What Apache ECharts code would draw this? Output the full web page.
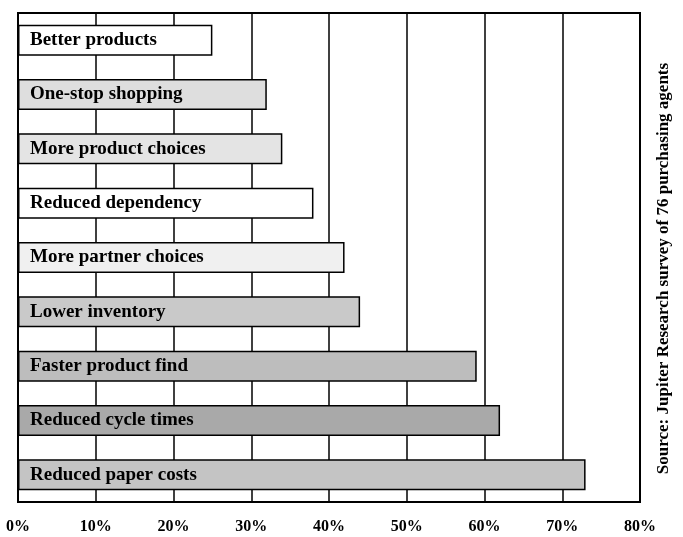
<!DOCTYPE html>
<html>
<head>
<meta charset="utf-8">
<script src="https://cdn.jsdelivr.net/npm/echarts@6/dist/echarts.min.js"></script>
<style>
html, body { margin: 0; padding: 0; background: #fff; }
#main { width: 683px; height: 537px; }
</style>
</head>
<body>
<div id="main"></div>
<script>
// 数据：从上到下的类别、百分比和灰度
var categories = ['Better products', 'One-stop shopping', 'More product choices', 'Reduced dependency',
	'More partner choices', 'Lower inventory', 'Faster product find', 'Reduced cycle times', 'Reduced paper costs'];
var values = [25, 32, 34, 38, 42, 44, 59, 62, 73];
var shades = ['#ffffff', '#dedede', '#e4e4e4', '#ffffff', '#f0f0f0', '#c9c9c9', '#bdbdbd', '#a9a9a9', '#c4c4c4'];
var tickLabels = ['0%', '10%', '20%', '30%', '40%', '50%', '60%', '70%', '80%'];
var sourceText = 'Source: Jupiter Research survey of 76 purchasing agents';

var serif = '"Liberation Serif", "DejaVu Serif", serif';
var myChart = echarts.init(document.getElementById('main'));

var data = [];
for (var i = 0; i < values.length; i++) {
	data.push({
		value: values[i],
		itemStyle: { color: shades[i] }
	});
}

var option = {
	animation: false,
	grid: {
		left: 18,
		right: 43,
		top: 13,
		bottom: 35,
		show: true,
		borderColor: '#000',
		borderWidth: 2,
		backgroundColor: 'transparent'
	},
	xAxis: {
		type: 'value',
		min: 0,
		max: 80,
		interval: 10,
		axisLine: { show: false },
		axisTick: { show: false },
		splitLine: { lineStyle: { color: '#000', width: 1.5 } },
		axisLabel: {
			margin: 17,
			color: '#000',
			fontFamily: serif,
			fontWeight: 'bold',
			fontSize: 16,
			formatter: function (v) { return tickLabels[v / 10]; }
		}
	},
	yAxis: {
		type: 'category',
		inverse: true,
		data: categories,
		axisLine: { show: false },
		axisTick: { show: false },
		axisLabel: { show: false }
	},
	graphic: [{
		type: 'text',
		left: 655,
		top: 'middle',
		rotation: Math.PI / 2,
		originX: 0,
		style: {
			text: sourceText,
			fill: '#000',
			font: 'bold 17px ' + serif
		}
	}],
	series: [{
		type: 'bar',
		data: data,
		barWidth: 31,
		itemStyle: {
			borderColor: '#000',
			borderWidth: 1.5
		},
		label: {
			show: true,
			position: 'insideLeft',
			distance: 12,
			color: '#000',
			fontFamily: serif,
			fontWeight: 'bold',
			fontSize: 19,
			formatter: function (p) { return p.name; }
		}
	}]
};
myChart.setOption(option, true);
</script>
</body>
</html>
